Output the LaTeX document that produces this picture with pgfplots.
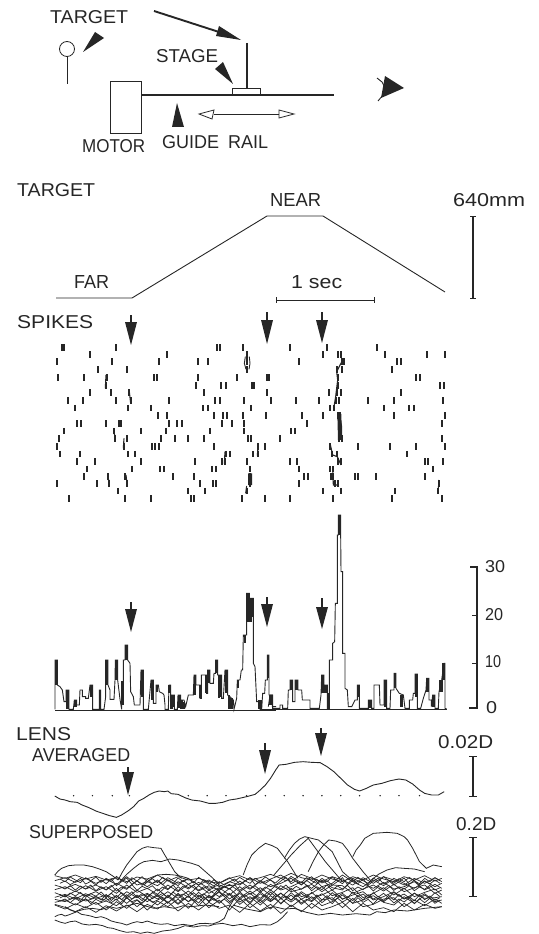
\documentclass[border=0pt]{standalone}
\usepackage{pgfplots}
\usepackage{fontspec}
\pgfplotsset{compat=1.18}
\setmainfont{Liberation Sans}
\definecolor{ink}{HTML}{262626}
\pgfplotsset{base/.style={scale only axis,width=538pt,height=934pt,hide axis,clip=false,y dir=reverse,unbounded coords=jump,cycle list={ink}}}
\newcommand\lbl[5]{\node[anchor=south west,inner sep=0pt,text=ink] at (axis cs:#1,#2) {\resizebox{#3pt}{#4pt}{#5}};}
\newcommand\darrow[6]{\addplot[ink,line width=1.3pt,forget plot] coordinates {(#1,#2)(#1,#3)};
\addplot[fill=ink,draw=none,forget plot] coordinates {(#4,#3)(#1,#6)(#5,#3)} --cycle;}
\begin{document}
\begin{tikzpicture}[x=1pt,y=1pt]
\useasboundingbox (0,0) rectangle (538pt,934pt);
% ---------- panel in pixel units: schematic, target trace, scale bars, arrows, text
\begin{axis}[base,xmin=0,xmax=538,ymin=0,ymax=934]
\addplot[ink,line width=0.9pt,only marks,mark=o,mark size=7.5pt,mark options={ink,line width=0.8pt,fill=none}] coordinates {(67,49)};
\addplot[ink,line width=1pt] coordinates {(67,57)(67,84)};
\addplot[ink,line width=1pt] coordinates {(110,82)(141,82)(141,134)(110,134)(110,82)};
\addplot[ink,line width=1.8pt] coordinates {(141,95)(334,95)};
\addplot[ink,line width=0.9pt] coordinates {(232,94)(232,88)(260,88)(260,94)};
\addplot[ink,line width=1.6pt] coordinates {(247,43)(247,88)};
\addplot[ink,line width=1.9pt] coordinates {(154,11)(219,32)};
\addplot[fill=ink,draw=none] coordinates {(219,26)(241,40)(216,36)} --cycle;
\addplot[fill=ink,draw=none] coordinates {(83,52)(95,32)(104,38)} --cycle;
\addplot[fill=ink,draw=none] coordinates {(233,84)(215,69)(223,62)} --cycle;
\addplot[fill=ink,draw=none] coordinates {(177,103)(172,127)(184,127)} --cycle;
\addplot[ink,line width=0.7pt] coordinates {(214,114)(279,114)};
\addplot[ink,line width=0.8pt,fill=white] coordinates {(199,114)(214,110)(212,119)} --cycle;
\addplot[ink,line width=0.8pt,fill=white] coordinates {(294,114)(279,110)(279,118)} --cycle;
\addplot[fill=ink,draw=none] coordinates {(404,88)(385,76)(381,98)} --cycle;
\addplot[ink,line width=0.9pt] coordinates {(377,78)(382,82)(385,88)(383,95)(378,101)};
% target trace
\addplot[ink,line width=0.9pt] coordinates {(56,298)(132,298)(267,216)(323,216)(445,292)};
\addplot[ink,line width=1pt] coordinates {(276,300)(374,300)};
\addplot[ink,line width=1pt] coordinates {(276,297)(276,303)};
\addplot[ink,line width=1pt] coordinates {(374,297)(374,303)};
\addplot[ink,line width=1.1pt] coordinates {(473,216)(473,298)};
\addplot[ink,line width=1pt] coordinates {(470,216)(476,216)};
\addplot[ink,line width=1pt] coordinates {(470,298)(476,298)};
% arrows
\darrow{131}{315}{322}{125}{137}{345}
\darrow{267}{312}{320}{261}{273}{344}
\darrow{322}{312}{320}{316}{328}{343}
\darrow{131}{602}{609}{125}{137}{632}
\darrow{267}{597}{604}{261}{273}{627}
\darrow{322}{598}{607}{316}{328}{629}
\darrow{128}{767}{772}{122}{134}{795}
\darrow{265}{743}{750}{259}{271}{774}
\darrow{321}{728}{733}{315}{327}{756}
% histogram scale
\addplot[ink,line width=1.1pt] coordinates {(470,567)(477,567)(477,708)(469,708)};
\addplot[ink,line width=0.8pt] coordinates {(472,615)(477,615)};
\addplot[ink,line width=0.8pt] coordinates {(472,663)(477,663)};
% lens scale bars
\addplot[ink,line width=1.1pt] coordinates {(473,756)(473,796)};
\addplot[ink,line width=1pt] coordinates {(469,756)(477,756)};
\addplot[ink,line width=1pt] coordinates {(469,796)(477,796)};
\addplot[ink,line width=1.1pt] coordinates {(473,837)(473,896)};
\addplot[ink,line width=1pt] coordinates {(469,837)(477,837)};
\addplot[ink,line width=1pt] coordinates {(469,896)(477,896)};
% labels
\lbl{50}{24}{78}{13}{TARGET}
\lbl{156}{63}{62}{13}{STAGE}
\lbl{82}{153}{63}{13}{MOTOR}
\lbl{162}{149}{106}{13}{GUIDE\enspace RAIL}
\lbl{17}{197}{78}{13}{TARGET}
\lbl{270}{207}{51}{13}{NEAR}
\lbl{74}{289}{35}{13}{FAR}
\lbl{291}{289}{51}{13}{1 sec}
\lbl{453}{207}{72}{13}{640mm}
\lbl{17}{329}{76}{13}{SPIKES}
\lbl{485}{573}{20}{12}{30}
\lbl{485}{621}{18}{12}{20}
\lbl{485}{668}{16}{12}{10}
\lbl{486}{714}{11}{12}{0}
\lbl{16}{741}{55}{13}{LENS}
\lbl{32}{762}{98}{13}{AVERAGED}
\lbl{438}{749}{55}{13}{0.02D}
\lbl{29}{839}{124}{13}{SUPERPOSED}
\lbl{456}{831}{40}{13}{0.2D}
\end{axis}
% ---------- spike raster
\begin{axis}[base,xmin=-120,xmax=1494,ymin=-930,ymax=1872]
\addplot[only marks,mark=|,mark size=3.2pt,mark options={ink,line width=2pt}] coordinates {
(65,112)(71,112)(228,112)(530,112)(540,112)(608,112)(750,112)(862,112)(1012,112)
(150,133)(382,133)(622,133)(850,133)(893,133)(903,133)(1035,133)(1162,133)(1215,133)
(52,155)(216,155)(358,155)(475,155)(503,155)(622,155)(778,155)(905,155)(912,155)(1072,155)(1082,155)
(174,179)(262,179)(622,179)(890,179)(905,179)(1056,179)
(53,203)(133,203)(200,203)(342,203)(350,203)(473,203)(591,203)(680,203)(687,203)(895,203)(1128,203)(1140,203)
(198,226)(467,226)(543,226)(557,226)(635,226)(642,226)(893,226)(1200,226)(1213,226)
(150,248)(212,248)(268,248)(492,248)(681,248)(868,248)(892,248)(904,248)(1083,248)
(83,271)(130,271)(229,271)(272,271)(386,271)(525,271)(541,271)(612,271)(692,271)(768,271)(838,271)(887,271)(898,271)(985,271)(1062,271)(1210,271)
(106,294)(264,294)(333,294)(488,294)(503,294)(632,294)(870,294)(882,294)(1032,294)(1108,294)(1123,294)
(353,317)(380,317)(523,317)(550,317)(561,317)(610,317)(679,317)(787,317)(848,317)(893,317)(900,317)(1063,317)(1216,317)
(110,340)(124,340)(197,340)(236,340)(244,340)(386,340)(410,340)(426,340)(547,340)(576,340)(611,340)(800,340)(897,340)(1207,340)
(72,363)(222,363)(304,363)(378,363)(511,363)(613,363)(752,363)(765,363)(897,363)(904,363)
(57,386)(225,386)(260,386)(364,386)(405,386)(445,386)(492,386)(624,386)(632,386)(720,386)(897,386)(905,386)(1205,386)
(50,409)(252,409)(335,409)(345,409)(357,409)(523,409)(655,409)(676,409)(870,409)(955,409)(1051,409)(1128,409)(1216,409)
(60,432)(120,432)(264,432)(286,432)(557,432)(571,432)(640,432)(654,432)(875,432)(892,432)(1100,432)
(110,455)(166,455)(303,455)(465,455)(545,455)(555,455)(622,455)(750,455)(772,455)(895,455)(903,455)(1155,455)(1165,455)(1208,455)
(141,477)(275,477)(360,477)(373,477)(516,477)(527,477)(630,477)(778,477)(870,477)(880,477)(1180,477)
(133,499)(204,499)(255,499)(398,499)(461,499)(630,499)(792,499)(804,499)(872,499)(880,499)(945,499)(955,499)(1007,499)(1155,499)
(52,521)(172,521)(207,521)(260,521)(480,521)(518,521)(527,521)(630,521)(778,521)(885,521)(893,521)(1197,521)
(235,543)(445,543)(495,543)(620,543)(850,543)(902,543)(1066,543)(1195,543)
(87,566)(255,566)(333,566)(453,566)(463,566)(605,566)(675,566)(750,566)(878,566)(1057,566)(1206,566)
};
\addplot[ink,line width=1.1pt] coordinates {(908,150)(890,185)(893,210)(887,260)(882,290)(nan,nan)(897,310)(905,350)(905,390)(nan,nan)(870,400)(878,435)(892,440)(903,465)(nan,nan)(878,470)(880,525)(895,525)(nan,nan)(198,195)(196,235)(nan,nan)(268,245)(272,280)(nan,nan)(222,360)(226,395)(nan,nan)(252,385)(250,415)(nan,nan)(655,400)(652,437)(nan,nan)(555,425)(553,462)(nan,nan)(204,490)(207,528)(nan,nan)(258,495)(262,530)(nan,nan)(620,528)(617,550)(nan,nan)(1197,510)(1194,548)(nan,nan)(386,330)(386,350)};
\addplot[ink,line width=0.9pt] coordinates {(616,140)(613,160)(618,178)(nan,nan)(628,140)(630,160)(627,178)};
\addplot[ink,line width=4pt] coordinates {(630,490)(630,525)(nan,nan)(898,312)(900,390)};
\end{axis}
% ---------- histogram, left part
\begin{axis}[base,xmin=-120,xmax=1494,ymin=-1530,ymax=1272]
\addplot[ink,line width=0.9pt] coordinates {
(45,598)(45,450)(52,450)(52,525)(60,530)(67,540)(72,575)(78,575)(78,540)(87,540)(87,598)(100,598)(103,570)(110,570)(110,585)(118,585)(120,540)(127,540)(127,560)(137,560)(137,565)(145,565)(150,525)(158,525)(158,598)(178,598)(178,540)(182,540)(182,598)(192,598)(197,560)(197,450)(204,450)(204,525)(210,540)(210,568)(222,568)(225,510)(226,450)(233,450)(233,510)(240,568)(245,598)(245,515)(250,515)(250,450)(255,450)(255,405)(263,405)(263,450)(270,460)(272,545)(280,560)(283,585)(300,585)(303,480)(310,480)(310,598)(325,598)(333,510)(340,510)(340,580)(348,580)(348,525)(355,525)(358,545)(368,550)(372,555)(375,585)(375,598)(385,598)(387,525)(392,525)(392,555)(403,555)(403,598)(412,598)(414,555)(422,555)(422,570)(432,570)(437,590)(445,555)(460,555)(462,495)(468,495)(468,525)(480,525)(480,565)(484,565)(484,495)(500,495)(500,550)(503,550)(503,480)(510,480)(510,520)(520,520)(522,490)(527,490)(527,450)(533,450)(533,495)(545,495)(545,565)(550,565)(555,480)(563,480)(563,555)(570,560)(580,570)(582,598)(590,565)(592,510)(600,510)(604,480)(608,480)(610,375)(620,375)(620,250)(628,250)(628,265)(640,265)(640,460)(645,470)(650,575)(658,575)(660,598)(665,598)(668,550)(674,550)(676,510)(682,510)(682,435)(687,435)(687,555)(697,555)(697,590)(708,590)};
\addplot[ink,line width=0.7pt] coordinates {(45,600)(708,600)};
\addplot[ink,line width=2.7pt] coordinates {
(48,450)(48,525)(nan,nan)(82,540)(82,598)(nan,nan)(106,570)(106,590)(nan,nan)(154,525)(154,560)(nan,nan)(200,450)(200,525)(nan,nan)(229,450)(229,510)(nan,nan)(248,515)(248,585)(nan,nan)(259,405)(259,450)(nan,nan)(306,480)(306,560)(nan,nan)(336,510)(336,570)(nan,nan)(351,525)(351,545)(nan,nan)(389,525)(389,550)(nan,nan)(395,555)(395,598)(nan,nan)(401,555)(401,590)(nan,nan)(418,555)(418,595)(nan,nan)(425,570)(425,598)(nan,nan)(431,575)(431,598)(nan,nan)(465,495)(465,555)(nan,nan)(482,525)(482,565)(nan,nan)(500,495)(500,550)(nan,nan)(506,480)(506,520)(nan,nan)(530,450)(530,490)(nan,nan)(537,495)(537,565)(nan,nan)(542,495)(542,560)(nan,nan)(559,480)(559,550)(nan,nan)(567,555)(567,598)(nan,nan)(574,565)(574,598)(nan,nan)(594,510)(594,535)(nan,nan)(615,375)(615,400)(nan,nan)(624,250)(624,335)(nan,nan)(631,265)(631,335)(nan,nan)(637,265)(637,320)(nan,nan)(659,570)(659,598)(nan,nan)(684,435)(684,505)(nan,nan)(692,555)(692,585)};
\end{axis}
% ---------- histogram, right part
\begin{axis}[base,xmin=-780,xmax=834,ymin=-1530,ymax=1272]
\addplot[ink,line width=0.9pt] coordinates {
(25,590)(30,555)(38,555)(38,595)(60,595)(60,585)(68,585)(68,595)(83,595)(85,540)(90,540)(90,510)(98,510)(98,575)(105,575)(105,510)(114,510)(114,540)(125,540)(127,570)(150,570)(150,595)(178,595)(183,555)(185,495)(192,495)(192,525)(202,525)(202,595)(208,595)(208,450)(218,450)(218,400)(224,395)(226,280)(232,280)(232,75)(235,75)(235,15)(242,15)(242,75)(243,185)(248,185)(248,430)(255,430)(255,535)(262,540)(265,590)(275,590)(285,570)(292,570)(292,525)(298,525)(298,595)(325,595)(325,570)(335,570)(335,595)(342,595)(342,525)(358,525)(360,585)(372,585)(372,510)(380,510)(380,595)(390,595)(392,540)(402,540)(402,490)(408,490)(408,535)(418,550)(430,555)(435,595)(448,595)(448,570)(458,570)(460,550)(465,550)(465,492)(472,492)(472,595)(482,595)(490,565)(498,540)(500,505)(507,505)(507,570)(514,570)(514,590)(518,555)(525,555)(525,595)(535,595)(537,545)(545,510)(552,460)(555,460)(555,595)(560,597)};
\addplot[ink,line width=0.7pt] coordinates {(0,598)(560,598)};
\addplot[ink,line width=2.7pt] coordinates {
(3,570)(3,598)(nan,nan)(32,555)(32,580)(nan,nan)(94,510)(94,540)(nan,nan)(110,510)(110,540)(nan,nan)(188,495)(188,550)(nan,nan)(197,525)(197,548)(nan,nan)(205,550)(205,595)(nan,nan)(238,15)(238,75)(nan,nan)(295,525)(295,560)(nan,nan)(329,570)(329,595)(nan,nan)(376,510)(376,590)(nan,nan)(405,490)(405,535)(nan,nan)(425,555)(425,590)(nan,nan)(468,492)(468,560)(nan,nan)(503,505)(503,545)(nan,nan)(521,555)(521,590)(nan,nan)(540,510)(540,545)(nan,nan)(546,510)(546,545)(nan,nan)(551,460)(551,510)};
\end{axis}
% ---------- lens traces
\pgfplotstableread{
x c1 c2 c3 c4 c5 c6 c7 c8 c9 c10
160 482 497 510 524 533 547 553 562 570 568
190 490 488 520 515 545 538 560 555 582 577
220 480 502 508 530 528 552 545 570 566 590
250 492 490 522 512 542 536 558 552 578 575
280 484 505 510 528 530 550 548 568 562 592
310 495 493 525 515 548 540 556 558 585 572
340 488 508 505 535 520 555 542 572 560 588
370 500 485 520 510 550 530 565 548 580 570
400 486 510 498 532 525 548 540 575 555 590
430 492 500 515 520 545 535 560 550 585 568
460 480 512 495 538 522 552 538 570 558 582
490 498 488 522 510 548 530 565 545 575 560
520 485 505 500 530 515 550 535 568 552 588
550 495 490 518 508 540 528 560 542 580 565
580 490 510 502 528 512 552 532 572 548 585
610 500 495 520 512 535 525 558 540 578 562
640 505 515 510 525 518 545 528 565 555 580
670 490 500 522 508 540 520 560 538 585 570
700 482 510 498 530 515 548 535 568 550 592
730 495 488 520 510 538 528 562 545 578 565
760 488 505 500 532 518 550 530 570 555 588
790 478 492 515 508 540 525 558 542 582 568
820 490 480 505 525 512 548 535 565 550 595
850 475 500 490 515 530 520 555 540 575 570
880 488 478 510 500 522 545 530 568 552 590
910 495 490 485 520 508 535 550 545 580 565
940 480 500 515 495 530 515 540 572 555 585
970 492 485 505 518 510 542 525 560 548 575
1000 500 495 480 525 512 532 552 540 578 562
1030 485 510 500 490 535 518 540 565 550 590
1060 495 488 515 505 522 548 530 555 575 565
1090 480 505 495 520 510 535 555 542 568 585
1120 492 485 512 502 528 518 545 562 552 578
1150 500 495 490 522 508 540 530 570 548 590
1180 485 510 505 515 530 520 552 545 575 565
1210 495 490 520 500 518 545 535 565 555 585
1240 482 505 498 525 510 532 550 540 572 568
1270 498 488 515 508 535 522 548 560 552 580
1290 490 500 505 520 525 540 545 555 565 575
}\band
\pgfplotstableread{
x d1 d2 d3 d4 d5 d6
175 492 505 538 549 558 515
190 500 498 546 541 552 522
205 486 509 534 553 563 512
220 495 500 543 546 550 525
235 503 490 532 556 560 513
250 488 507 547 540 551 522
265 497 499 536 552 566 510
280 486 510 544 543 553 527
295 502 495 531 555 561 515
310 490 506 546 538 549 524
325 499 492 535 557 563 511
340 484 512 548 541 552 528
355 496 500 533 554 567 516
370 505 489 545 539 548 523
385 488 508 530 552 560 509
400 498 497 547 544 554 526
415 485 511 536 557 565 514
430 500 493 549 537 550 521
445 491 506 532 551 562 512
460 503 498 544 542 555 528
475 487 509 535 556 547 516
490 497 494 548 540 563 524
505 506 503 531 553 551 510
520 489 512 543 538 566 527
535 500 496 537 555 549 513
550 491 508 547 543 560 522
565 504 500 533 558 552 511
580 487 511 545 540 564 526
595 498 494 536 553 546 515
610 508 504 549 544 560 525
625 494 513 540 556 550 518
640 504 500 532 548 562 527
655 496 510 544 538 552 513
670 488 501 535 552 565 522
685 499 492 547 541 549 510
700 487 507 530 555 561 526
715 497 498 545 539 552 515
730 505 488 534 553 566 523
745 490 509 548 544 548 512
760 499 497 536 556 563 527
775 486 505 547 540 551 516
790 496 494 531 554 560 525
805 504 510 545 538 549 512
820 489 498 534 552 567 522
835 498 487 549 543 552 510
850 484 506 533 556 561 526
865 494 497 546 539 550 514
880 503 509 535 553 564 523
895 488 496 548 544 553 511
910 497 507 532 558 560 527
925 505 493 545 540 547 515
940 490 504 536 555 563 524
955 500 497 549 542 551 510
970 486 511 533 556 566 526
985 497 500 546 538 549 513
1000 506 488 535 553 561 522
1015 491 509 548 545 552 511
1030 500 496 531 557 565 527
1045 487 506 545 541 548 516
1060 497 492 537 555 562 524
1075 505 510 549 539 553 512
1090 489 499 533 552 567 528
1105 499 489 546 544 550 514
1120 485 507 535 558 560 523
1135 496 497 548 541 549 511
1150 505 510 532 555 564 526
1165 491 500 544 538 552 515
1180 500 489 537 552 561 522
1195 487 507 549 545 548 512
1210 498 496 534 557 566 527
1225 506 511 546 540 551 516
1240 490 498 536 554 563 523
1255 500 507 548 543 550 511
1270 488 495 533 556 565 525
1285 497 505 545 548 555 518
}\bandb
\begin{axis}[base,xmin=0,xmax=1571,ymin=-2145,ymax=657]
% averaged
\addplot[ink,line width=0.9pt] coordinates {(160,243)(175,252)(190,255)(205,260)(225,262)(240,270)(260,278)(280,288)(300,295)(320,302)(340,307)(355,300)(375,287)(390,275)(405,258)(420,250)(435,240)(450,232)(465,228)(480,230)(490,228)(500,236)(520,238)(540,248)(560,255)(585,258)(610,265)(630,265)(650,262)(670,255)(690,252)(720,245)(745,238)(760,225)(775,210)(790,190)(805,165)(815,150)(835,148)(860,142)(885,140)(910,142)(935,143)(955,155)(975,170)(995,190)(1015,210)(1035,223)(1050,228)(1070,220)(1090,210)(1115,205)(1140,197)(1165,192)(1185,195)(1205,207)(1225,225)(1240,235)(1260,240)(1280,240)(1297,230)};
\addplot[only marks,mark=*,mark size=0.5pt,mark options={ink}] coordinates {(215,242)(270,242)(328,242)(378,242)(550,242)(605,242)(660,242)(720,242)(775,242)(830,242)(885,242)(940,242)(995,242)(1050,242)(1110,242)(1165,242)(1225,242)};
% superposed: band
\foreach \c in {c1,c2,c3,c4,c5,c6,c7,c8,c9,c10}{
\addplot[ink,line width=0.7pt] table[x=x,y=\c] {\band};
}
\foreach \c in {d1,d2,d3,d4,d5,d6}{
\addplot[ink,line width=0.7pt] table[x=x,y=\c] {\bandb};
}
\addplot[ink,line width=0.8pt] coordinates {(1030,425)(1040,405)(1052,390)(1065,370)(1090,355)(1130,352)(1160,355)(1180,365)(1190,375)(1205,400)(1225,440)(1245,460)(1265,450)(1290,455)};
\addplot[ink,line width=0.8pt] coordinates {(160,605)(170,600)(180,598)(190,603)(200,600)(212,595)(225,590)(238,598)(250,600)(265,603)(280,608)(295,605)(310,610)(325,618)(340,622)(355,625)(370,630)(385,624)(400,620)(415,623)(430,618)(450,625)(470,628)(490,626)(510,632)(535,628)(560,632)(580,626)(600,625)(620,627)(640,620)(655,610)(670,575)(690,540)};
\addplot[ink,line width=0.8pt] coordinates {(160,615)(175,621)(190,625)(205,620)(220,618)(240,627)(260,630)(280,628)(300,632)(315,638)(330,640)(350,647)(370,652)(390,650)(410,655)(430,651)(450,655)(475,648)(500,645)(520,640)(540,632)(565,636)(590,632)(610,633)(625,628)(650,625)(680,632)(705,628)(730,635)(760,629)(790,630)(810,620)(825,607)(840,590)};
\addplot[ink,line width=0.8pt] coordinates {(345,495)(357,472)(370,450)(385,430)(400,410)(415,400)(430,395)(450,398)(470,400)(480,418)(490,435)(510,470)(530,490)};
\addplot[ink,line width=0.8pt] coordinates {(350,500)(370,478)(390,460)(405,448)(420,440)(445,436)(470,440)(495,432)(520,435)(540,440)(560,445)(580,452)(600,470)(620,488)(640,510)};
\addplot[ink,line width=0.8pt] coordinates {(160,480)(170,468)(180,460)(200,452)(220,450)(245,450)(270,455)(290,462)(310,470)(328,482)(345,495)};
\addplot[ink,line width=0.8pt] coordinates {(420,510)(440,492)(460,480)(485,478)(510,480)(530,484)(550,490)};
\addplot[ink,line width=0.8pt] coordinates {(710,480)(722,448)(735,420)(755,400)(775,385)(795,392)(810,400)(825,420)(840,440)(855,465)(870,490)};
\addplot[ink,line width=0.8pt] coordinates {(830,430)(845,405)(860,385)(875,372)(890,365)(910,370)(930,375)(950,392)(970,410)(985,440)(1000,470)(1020,488)(1040,500)};
\addplot[ink,line width=0.8pt] coordinates {(800,480)(825,450)(850,420)(875,393)(900,370)(925,405)(950,440)(975,470)(1000,500)};
\addplot[ink,line width=0.8pt] coordinates {(900,470)(915,438)(930,410)(945,390)(960,375)(980,378)(1000,385)(1015,405)(1030,430)(1045,450)(1060,470)(1085,500)};
\addplot[ink,line width=0.8pt] coordinates {(1085,495)(1105,478)(1130,465)(1155,458)(1180,460)(1210,462)(1240,470)};
\addplot[ink,line width=0.8pt] coordinates {(610,560)(625,538)(640,520)(665,512)(690,510)};
\addplot[ink,line width=0.8pt] coordinates {(680,570)(720,582)(760,590)(780,580)(800,575)(830,582)(860,580)(895,592)(930,600)(965,595)(1000,600)(1040,596)(1080,600)(1100,590)(1125,593)(1150,585)(1190,588)(1240,580)(1290,575)};
\addplot[ink,line width=0.8pt] coordinates {(190,575)(205,585)(220,590)(245,583)(270,580)(295,584)(320,575)(340,580)(360,575)(380,570)(400,565)(425,573)(450,580)(480,575)(510,580)(535,572)(560,575)(600,570)(640,575)};
\end{axis}
\end{tikzpicture}
\end{document}
